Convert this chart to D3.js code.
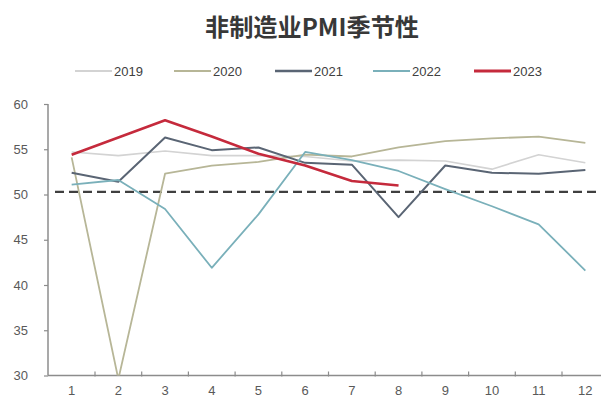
<!DOCTYPE html>
<html>
<head>
<meta charset="utf-8">
<script src="https://cdn.jsdelivr.net/npm/d3@7"></script>
<style>
  html, body { margin: 0; padding: 0; background: #fff; }
  svg { display: block; }
</style>
</head>
<body>
<svg id="chart" width="601" height="398"></svg>
<script>
// Non-manufacturing PMI by month, one series per year
const months = [1, 2, 3, 4, 5, 6, 7, 8, 9, 10, 11, 12];
const years = ["2019", "2020", "2021", "2022", "2023"];
const pmi2019 = [54.7, 54.3, 54.8, 54.3, 54.3, 54.2, 53.7, 53.8, 53.7, 52.8, 54.4, 53.5];
const pmi2020 = [54.1, 29.6, 52.3, 53.2, 53.6, 54.4, 54.2, 55.2, 55.9, 56.2, 56.4, 55.7];
const pmi2021 = [52.4, 51.4, 56.3, 54.9, 55.2, 53.5, 53.3, 47.5, 53.2, 52.4, 52.3, 52.7];
const pmi2022 = [51.1, 51.6, 48.4, 41.9, 47.8, 54.7, 53.8, 52.6, 50.6, 48.7, 46.7, 41.6];
const pmi2023 = [54.4, 56.3, 58.2, 56.4, 54.5, 53.2, 51.5, 51.0];
const yTicks = [30, 35, 40, 45, 50, 55, 60];
const boomBust = 50.3;

const seriesValues = [pmi2019, pmi2020, pmi2021, pmi2022, pmi2023];
const colors = ["#d3d3d3", "#b7b697", "#5a6574", "#7ab0ba", "#c52a3c"];
const widths = [1.6, 1.8, 2, 1.8, 2.6];

const svg = d3.select("#chart");
const fontLatin = "'Liberation Sans', Arial, sans-serif";

const x = d3.scaleBand().domain(months).range([48.3, 48.3 + 12 * 46.7]).paddingInner(0).paddingOuter(0);
const y = d3.scaleLinear().domain([30, 60]).range([375.5, 104]);
const cx = m => x(m) + x.bandwidth() / 2;

// Title
svg.append("text")
  .attr("x", 312).attr("y", 36)
  .attr("text-anchor", "middle")
  .attr("font-family", "'Noto Sans CJK SC', sans-serif")
  .attr("font-size", 24).attr("font-weight", 700)
  .attr("fill", "#383838")
  .attr("textLength", 214).attr("lengthAdjust", "spacingAndGlyphs")
  .text("非制造业PMI季节性");

// Legend
const legendX = [75, 174, 275, 373, 474];
const legend = svg.append("g");
years.forEach((yr, i) => {
  const g = legend.append("g").attr("transform", `translate(${legendX[i]},71)`);
  g.append("line").attr("x1", 0).attr("x2", 37).attr("y1", 0).attr("y2", 0)
    .attr("stroke", colors[i]).attr("stroke-width", widths[i] + 0.4);
  g.append("text").attr("x", 39).attr("y", 4.5)
    .attr("font-family", fontLatin).attr("font-size", 13)
    .attr("fill", "#404040").text(yr);
});

// Y axis
const yAxis = svg.append("g").attr("transform", "translate(48,0)")
  .call(d3.axisLeft(y).tickValues(yTicks).tickSize(4).tickPadding(16).tickFormat(d3.format("d")));
yAxis.selectAll("text").attr("font-family", fontLatin).attr("font-size", 13).attr("fill", "#595959");
yAxis.selectAll("line").attr("stroke", "#8c8c8c").attr("stroke-width", 1.2);
yAxis.select(".domain").attr("d", `M0,${y(60)}V${y(30)}`).attr("stroke", "#8c8c8c").attr("stroke-width", 1.5);

// X axis: labels at month centres, tick marks at band boundaries
const xAxis = svg.append("g").attr("transform", `translate(0,${y(30)})`)
  .call(d3.axisBottom(x).tickSize(0).tickPadding(10));
xAxis.select(".domain").remove();
xAxis.selectAll("text").attr("font-family", fontLatin).attr("font-size", 13).attr("fill", "#595959");
xAxis.append("line").attr("x1", 48).attr("x2", 601).attr("y1", 0).attr("y2", 0)
  .attr("stroke", "#8c8c8c").attr("stroke-width", 1.5);
xAxis.selectAll(".bound").data(months.slice(1)).join("line")
  .attr("class", "bound")
  .attr("x1", d => x(d)).attr("x2", d => x(d))
  .attr("y1", -4).attr("y2", 1)
  .attr("stroke", "#8c8c8c").attr("stroke-width", 1.2);

// 50 reference line
svg.append("line")
  .attr("x1", 55).attr("x2", 601)
  .attr("y1", y(boomBust)).attr("y2", y(boomBust))
  .attr("stroke", "#3f3f3f").attr("stroke-width", 2.2)
  .attr("stroke-dasharray", "9,5");

// Series lines, clipped to the plot area
svg.append("clipPath").attr("id", "plot")
  .append("rect").attr("x", 48).attr("y", 95).attr("width", 560).attr("height", y(30) - 95);

const line = d3.line().x((d, i) => cx(months[i])).y(d => y(d));
const lines = svg.append("g").attr("clip-path", "url(#plot)");
seriesValues.forEach((vals, i) => {
  lines.append("path")
    .attr("d", line(vals))
    .attr("fill", "none")
    .attr("stroke", colors[i])
    .attr("stroke-width", widths[i])
    .attr("stroke-linejoin", "round");
});
</script>
</body>
</html>
